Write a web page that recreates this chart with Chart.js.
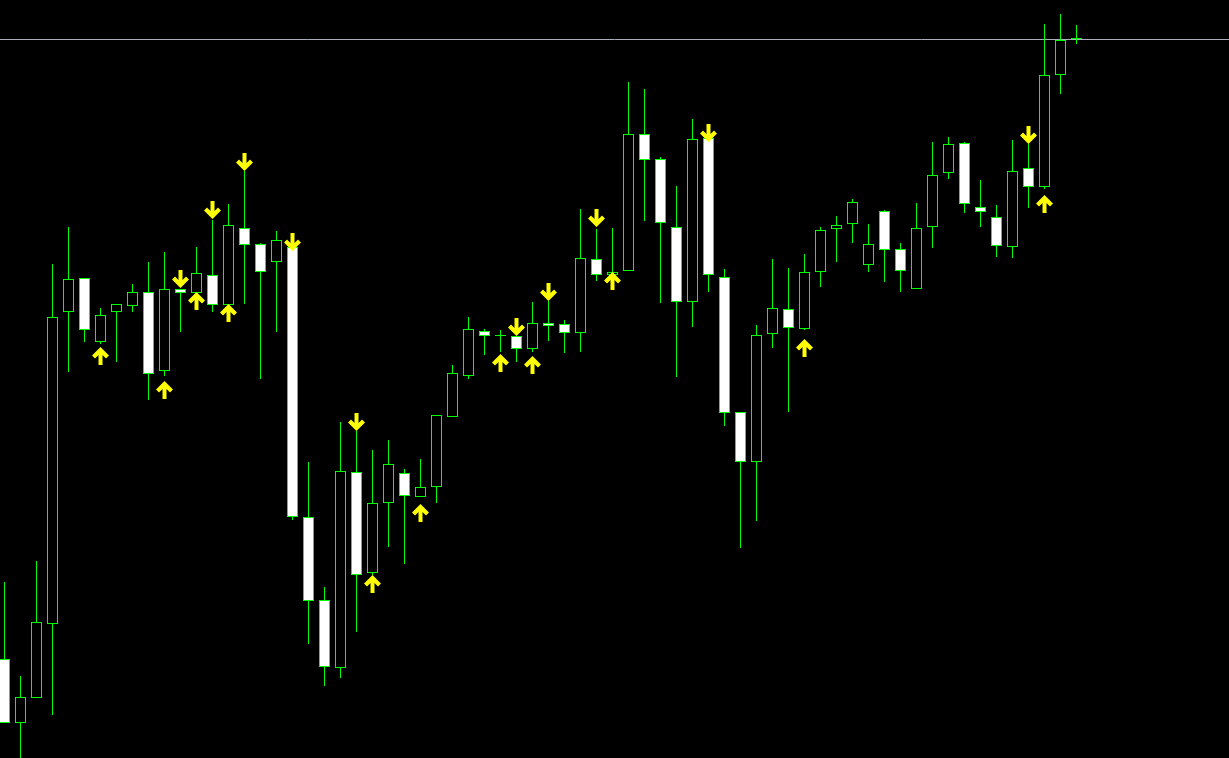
<!DOCTYPE html>
<html>
<head>
<meta charset="utf-8">
<script src="https://cdn.jsdelivr.net/npm/chart.js"></script>
<style>
  html, body { margin: 0; padding: 0; background: #000; overflow: hidden; }
  canvas { display: block; }
</style>
</head>
<body>
<canvas id="chart" width="1229" height="758"></canvas>
<script>
// OHLC bars, oldest first
let openP = [1.2099,1.2035,1.2060,1.2134,1.2446,1.2480,1.2416,1.2446,1.2452,1.2466,
  1.2387,1.2469,1.2465,1.2483,1.2453,1.2530,1.2514,1.2496,1.2511,1.2241,
  1.2158,1.2090,1.2286,1.2185,1.2255,1.2285,1.2261,1.2271,1.2341,1.2382,
  1.2427,1.2422,1.2422,1.2409,1.2435,1.2434,1.2425,1.2499,1.2483,1.2487,
  1.2624,1.2599,1.2531,1.2456,1.2620,1.2481,1.2346,1.2296,1.2424,1.2449,
  1.2429,1.2486,1.2529,1.2534,1.2493,1.2547,1.2509,1.2469,1.2531,1.2585,
  1.2615,1.2551,1.2541,1.2511,1.2590,1.2571,1.2683,1.2719];
let highP = [1.2176,1.2082,1.2197,1.2494,1.2531,1.2480,1.2450,1.2454,1.2474,1.2496,
  1.2506,1.2469,1.2511,1.2538,1.2554,1.2587,1.2515,1.2527,1.2511,1.2296,
  1.2171,1.2336,1.2327,1.2308,1.2318,1.2289,1.2299,1.2343,1.2393,1.2441,
  1.2429,1.2428,1.2422,1.2456,1.2457,1.2438,1.2549,1.2529,1.2530,1.2676,
  1.2669,1.2601,1.2572,1.2639,1.2620,1.2489,1.2346,1.2433,1.2499,1.2490,
  1.2504,1.2531,1.2542,1.2559,1.2534,1.2548,1.2515,1.2555,1.2616,1.2621,
  1.2616,1.2578,1.2553,1.2618,1.2614,1.2734,1.2744,1.2733];
let lowP = [1.2035,1.1996,1.2060,1.2043,1.2386,1.2416,1.2414,1.2396,1.2446,1.2358,
  1.2382,1.2426,1.2463,1.2446,1.2452,1.2454,1.2379,1.2426,1.2238,1.2114,
  1.2072,1.2080,1.2126,1.2183,1.2211,1.2194,1.2261,1.2255,1.2341,1.2379,
  1.2403,1.2406,1.2396,1.2406,1.2417,1.2405,1.2406,1.2477,1.2482,1.2487,
  1.2537,1.2455,1.2381,1.2431,1.2466,1.2332,1.2210,1.2237,1.2410,1.2346,
  1.2428,1.2471,1.2496,1.2515,1.2486,1.2476,1.2466,1.2469,1.2510,1.2579,
  1.2545,1.2531,1.2501,1.2500,1.2550,1.2569,1.2664,1.2714];
let closeP = [1.2035,1.2061,1.2136,1.2441,1.2479,1.2428,1.2443,1.2454,1.2466,1.2384,
  1.2469,1.2465,1.2485,1.2453,1.2533,1.2513,1.2486,1.2518,1.2241,1.2157,
  1.2091,1.2287,1.2183,1.2255,1.2294,1.2262,1.2271,1.2343,1.2385,1.2429,
  1.2422,1.2422,1.2409,1.2435,1.2432,1.2425,1.2500,1.2483,1.2486,1.2624,
  1.2598,1.2535,1.2456,1.2619,1.2483,1.2345,1.2296,1.2423,1.2450,1.2430,
  1.2486,1.2528,1.2533,1.2556,1.2514,1.2508,1.2487,1.2530,1.2583,1.2614,
  1.2554,1.2546,1.2512,1.2587,1.2571,1.2683,1.2718,1.2719];

// signal arrows (bar index, price)
let upIdx = [6,10,12,14,23,26,31,33,38,50,65];
let upPrice = [1.2402,1.2368,1.2457,1.2445,1.2174,1.2245,1.2395,1.2393,1.2477,1.2410,1.2554];
let downIdx = [11,13,15,18,22,32,34,37,44,64];
let downPrice = [1.2479,1.2548,1.2596,1.2516,1.2336,1.2431,1.2466,1.2540,1.2625,1.2623];

let bidPrice = 1.27185;

const GREEN = "#00ff00";
const ARROW = "#ffff00";

function makeArrow(up)
{
    let c = document.createElement("canvas");
    c.width = 17;
    c.height = 18;
    let g = c.getContext("2d");
    if (!up) {
        g.translate(0, 18);
        g.scale(1, -1);
    }
    g.fillStyle = ARROW;
    g.beginPath();
    g.moveTo(8.5, 0);
    g.lineTo(17, 8.5);
    g.lineTo(14, 11.5);
    g.lineTo(10.5, 8);
    g.lineTo(10.5, 18);
    g.lineTo(6.5, 18);
    g.lineTo(6.5, 8);
    g.lineTo(3, 11.5);
    g.lineTo(0, 8.5);
    g.closePath();
    g.fill();
    return c;
}

let wicks = [];
let bodies = [];
let bodyColors = [];
for (let i = 0; i < openP.length; i++) {
    wicks.push({x: i, y: [lowP[i], highP[i]]});
    bodies.push({x: i, y: [openP[i], closeP[i]]});
    bodyColors.push(closeP[i] < openP[i] ? "#ffffff" : "#000000");
}
let upPts = upIdx.map((k, j) => ({x: k, y: upPrice[j]}));
let downPts = downIdx.map((k, j) => ({x: k, y: downPrice[j]}));

// 16 px per bar, first bar centred at 4.5 px
let xMin = -4.5 / 16;
let xMax = xMin + 1229 / 16;

new Chart(document.getElementById("chart"), {
    type: "scatter",
    data: {
        datasets: [
            {
                type: "line",
                data: [{x: xMin, y: bidPrice}, {x: xMax, y: bidPrice}],
                borderColor: "#a8b0bc",
                borderWidth: 1,
                pointRadius: 0,
                order: 4
            },
            {
                type: "bar",
                data: wicks,
                backgroundColor: GREEN,
                barThickness: 1,
                inflateAmount: 0,
                grouped: false,
                order: 3
            },
            {
                type: "bar",
                data: bodies,
                backgroundColor: bodyColors,
                borderColor: GREEN,
                borderWidth: 1,
                borderSkipped: false,
                barThickness: 11,
                inflateAmount: 0,
                minBarLength: 1,
                grouped: false,
                order: 2
            },
            {
                data: upPts,
                pointStyle: makeArrow(true),
                pointRadius: 8,
                order: 1
            },
            {
                data: downPts,
                pointStyle: makeArrow(false),
                pointRadius: 8,
                order: 1
            }
        ]
    },
    options: {
        responsive: false,
        animation: false,
        devicePixelRatio: 1,
        layout: { padding: 0, autoPadding: false },
        scales: {
            x: { type: "linear", min: xMin, max: xMax, offset: false, display: false },
            y: { type: "linear", min: 1.2000, max: 1.2758, display: false }
        },
        plugins: {
            legend: { display: false },
            tooltip: { enabled: false }
        },
        events: []
    }
});
</script>
</body>
</html>
